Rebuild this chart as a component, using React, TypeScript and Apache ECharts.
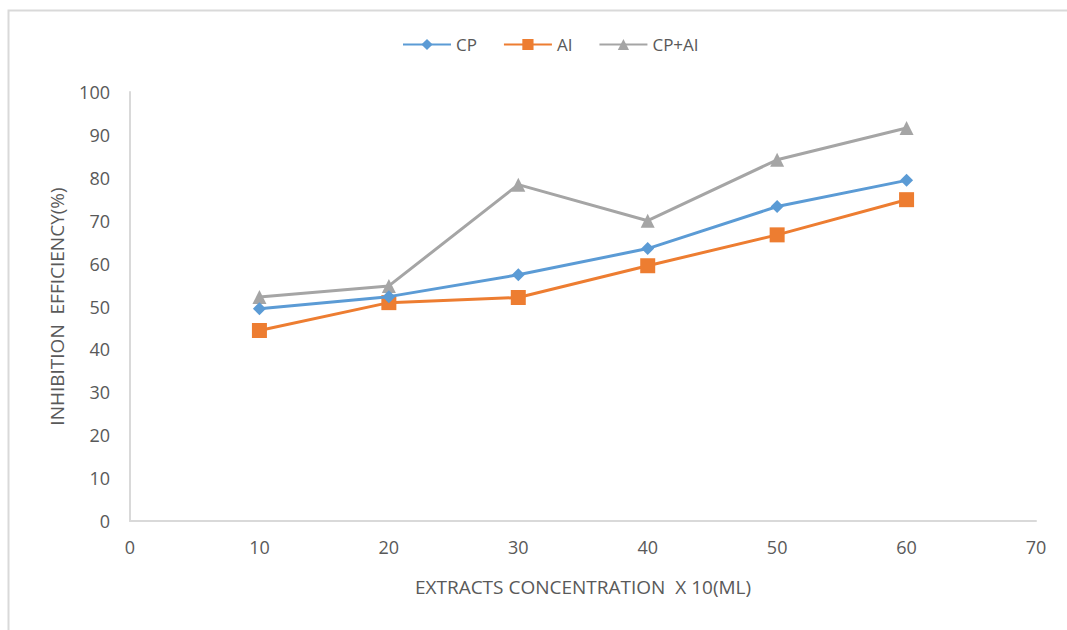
import React, { useEffect, useRef } from "react";
import * as echarts from "echarts";

const xValues = [10, 20, 30, 40, 50, 60];
const cpValues = [49.5, 52.3, 57.4, 63.5, 73.3, 79.4];
const aiValues = [44.4, 50.9, 52.1, 59.5, 66.7, 74.9];
const cpAiValues = [52.2, 54.8, 78.4, 70.0, 84.2, 91.6];
const seriesNames = ["CP", "AI", "CP+AI"];

const FONT = "'Open Sans', 'Liberation Sans', sans-serif";

export default function App() {
  const ref = useRef<HTMLDivElement>(null);
  useEffect(() => {
    document.body.style.margin = "0";
    const chart = echarts.init(ref.current!, null, { renderer: "svg" });
    const toPairs = (vals: number[]) => xValues.map((x, i) => [x, vals[i]]);
    chart.setOption({
      animation: false,
      backgroundColor: "#ffffff",
      textStyle: { fontFamily: FONT },
      graphic: [
        {
          type: "rect",
          shape: { x: 8.5, y: 10.5, width: 1070, height: 640 },
          style: { fill: "none", stroke: "#d9d9d9", lineWidth: 2 },
          silent: true,
        },
      ],
      legend: {
        top: 31,
        left: 397,
        itemWidth: 48,
        itemHeight: 14,
        itemGap: 26,
        textStyle: { color: "#595959", fontSize: 17, fontFamily: FONT },
        data: seriesNames,
      },
      grid: { left: 130, right: 31, top: 92, bottom: 109, containLabel: false },
      xAxis: {
        type: "value",
        min: 0,
        max: 70,
        interval: 10,
        name: "EXTRACTS CONCENTRATION  X 10(ML)",
        nameLocation: "middle",
        nameGap: 56,
        nameTextStyle: { color: "#595959", fontSize: 19, fontFamily: FONT },
        axisLine: { show: true, lineStyle: { color: "#d9d9d9", width: 2 } },
        axisTick: { show: false },
        splitLine: { show: false },
        axisLabel: { color: "#595959", fontSize: 18, margin: 17, fontFamily: FONT },
      },
      yAxis: {
        type: "value",
        min: 0,
        max: 100,
        interval: 10,
        name: "INHIBITION  EFFICIENCY(%)",
        nameLocation: "middle",
        nameGap: 64,
        nameTextStyle: { color: "#595959", fontSize: 19, fontFamily: FONT },
        axisLine: { show: true, lineStyle: { color: "#d9d9d9", width: 2 } },
        axisTick: { show: false },
        splitLine: { show: false },
        axisLabel: { color: "#595959", fontSize: 18, margin: 20, fontFamily: FONT },
      },
      series: [
        {
          name: seriesNames[0],
          type: "line",
          data: toPairs(cpValues),
          symbol: "diamond",
          symbolSize: 13,
          lineStyle: { color: "#5b9bd5", width: 3 },
          itemStyle: { color: "#5b9bd5" },
          z: 3,
        },
        {
          name: seriesNames[1],
          type: "line",
          data: toPairs(aiValues),
          symbol: "rect",
          symbolSize: 15,
          lineStyle: { color: "#ed7d31", width: 3 },
          itemStyle: { color: "#ed7d31" },
          z: 2,
        },
        {
          name: seriesNames[2],
          type: "line",
          data: toPairs(cpAiValues),
          symbol: "triangle",
          symbolSize: 14,
          lineStyle: { color: "#a5a5a5", width: 3 },
          itemStyle: { color: "#a5a5a5" },
          z: 1,
        },
      ],
    });
    return () => chart.dispose();
  }, []);
  return <div ref={ref} style={{ width: 1067, height: 630 }} />;
}
